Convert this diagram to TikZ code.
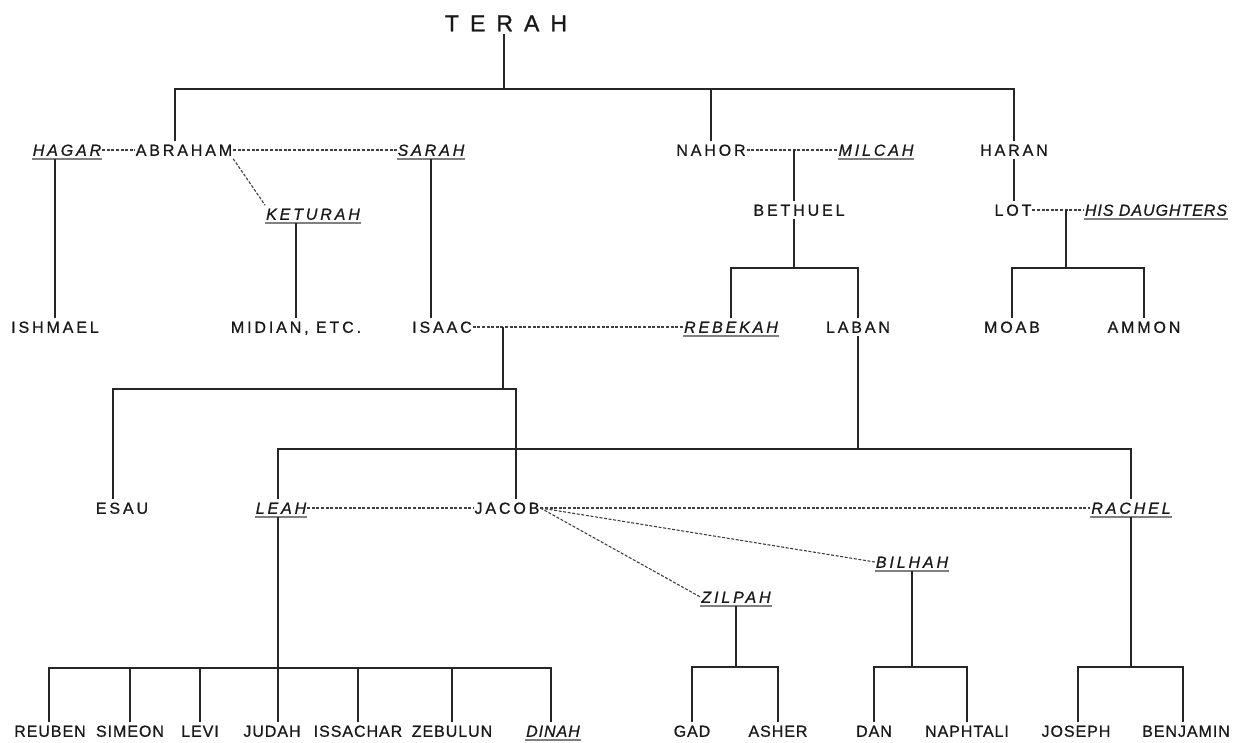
\documentclass[tikz,border=0pt]{standalone}
\usepackage{fontspec}
\newfontfamily\nmfont[LetterSpace=18,FakeBold=0.8]{Liberation Sans}
\newfontfamily\nmtight[LetterSpace=6,FakeBold=0.8]{Liberation Sans}
\newfontfamily\trfont[LetterSpace=48,FakeBold=1.2]{Liberation Sans}
\begin{document}
\begin{tikzpicture}[x=1pt,y=-1pt,
  uline/.style={draw=black!50, line width=1.5pt},
  kin/.style={draw=black!85, line width=1.3pt},
  wed/.style={draw=black!75, line width=1.1pt, dash pattern=on 3pt off 1.6pt},
  nm/.style={inner xsep=1pt, inner ysep=3pt, outer sep=0pt, text height=11.5pt, text depth=0pt,
             font=\nmfont\fontsize{16}{17}\selectfont, text=black!90},
  nmb/.style={nm, font=\nmtight\fontsize{16}{17}\selectfont},
  wife/.style={nm, font=\nmfont\itshape\fontsize{16}{17}\selectfont,
     append after command={(\tikzlastnode.south west) edge[uline] (\tikzlastnode.south east)}},
  wifeb/.style={nm, font=\nmtight\itshape\fontsize{16}{17}\selectfont,
     append after command={(\tikzlastnode.south west) edge[uline] (\tikzlastnode.south east)}},
]
\useasboundingbox (0,0) rectangle (1248,742);

% nodes
\node[nm, font=\trfont\fontsize{23}{24}\selectfont, text height=16.5pt] (terah) at (506,23) {TERAH};

\node[wife] (hagar) at (67,150) {HAGAR};
\node[nm] (abraham) at (184,150) {ABRAHAM};
\node[wife] (sarah) at (431,150) {SARAH};
\node[nm] (nahor) at (711,150) {NAHOR};
\node[wife] (milcah) at (876,150) {MILCAH};
\node[nm] (haran) at (1014,150) {HARAN};

\node[wife] (keturah) at (313,214) {KETURAH};
\node[nm] (bethuel) at (799,210) {BETHUEL};
\node[nm] (lot) at (1013,210) {LOT};
\node[wifeb] (hisd) at (1156,210) {HIS DAUGHTERS};

\node[nm] (ishmael) at (55,327) {ISHMAEL};
\node[nm] (midian) at (296,327) {MIDIAN, ETC.};
\node[nm] (isaac) at (442,327) {ISAAC};
\node[wife] (rebekah) at (731,327) {REBEKAH};
\node[nm] (laban) at (858,327) {LABAN};
\node[nm] (moab) at (1012,327) {MOAB};
\node[nm] (ammon) at (1144,327) {AMMON};

\node[nm] (esau) at (122,508) {ESAU};
\node[wife] (leah) at (281,508) {LEAH};
\node[nm] (jacob) at (507,508) {JACOB};
\node[wife] (rachel) at (1131,508) {RACHEL};
\node[wife] (bilhah) at (912,562) {BILHAH};
\node[wife] (zilpah) at (736,597) {ZILPAH};

\node[nmb] (reuben) at (50,731) {REUBEN};
\node[nmb] (simeon) at (130,731) {SIMEON};
\node[nmb] (levi) at (200,731) {LEVI};
\node[nmb] (judah) at (272,731) {JUDAH};
\node[nmb] (issachar) at (358,731) {ISSACHAR};
\node[nmb] (zebulun) at (452,731) {ZEBULUN};
\node[wifeb] (dinah) at (553,731) {DINAH};
\node[nmb] (gad) at (692,731) {GAD};
\node[nmb] (asher) at (778,731) {ASHER};
\node[nmb] (dan) at (874,731) {DAN};
\node[nmb] (naphtali) at (967,731) {NAPHTALI};
\node[nmb] (joseph) at (1076,731) {JOSEPH};
\node[nmb] (benjamin) at (1186,731) {BENJAMIN};

% Terah's sons
\coordinate (tb) at (504,89);
\coordinate (ta) at (175,89);
\coordinate (th) at (1014,89);
\draw[kin] (terah.south -| tb) -- (tb);
\draw[kin] (abraham.north -| ta) -- (ta) -- (th) -- (haran.north);
\draw[kin] (nahor.north) -- (nahor.north |- ta);

% Abraham
\draw[wed] (hagar.east) -- (abraham.west);
\draw[wed] (abraham.east) -- (sarah.west);
\draw[wed] (abraham.south east) -- (keturah.north west);
\draw[kin] (hagar.south -| ishmael.north) -- (ishmael.north);
\draw[kin] (keturah.south -| midian.north) -- (midian.north);
\draw[kin] (sarah.south) -- (sarah.south |- isaac.north);

% Nahor
\draw[wed] (nahor.east) -- (milcah.west);
\coordinate (nm) at (794,150);
\draw[kin] (nm) -- (nm |- bethuel.north);
\coordinate (bb) at (794,268);
\draw[kin] (bethuel.south -| bb) -- (bb);
\draw[kin] (rebekah.north) |- (bb) -| (laban.north);

% Haran
\draw[kin] (haran.south) -- (haran.south |- lot.north);
\draw[wed] (lot.east) -- (hisd.west);
\coordinate (ld) at (1066,210);
\coordinate (lb) at (1066,268);
\draw[kin] (ld) -- (lb);
\draw[kin] (moab.north) |- (lb) -| (ammon.north);

% Isaac
\draw[wed] (isaac.east) -- (rebekah.west);
\coordinate (ir) at (503,327);
\coordinate (ib) at (503,389);
\draw[kin] (ir) -- (ib);
\coordinate (eb) at (113,389);
\coordinate (jb) at (516,389);
\draw[kin] (eb |- esau.north) -- (eb) -- (jb) -- (jb |- jacob.north);

% Laban
\coordinate (lab) at (858,449);
\draw[kin] (laban.south) -- (lab);
\coordinate (lh) at (278,449);
\coordinate (rh) at (1131,449);
\draw[kin] (lh |- leah.north) -- (lh) -- (rh) -- (rh |- rachel.north);

% Jacob
\draw[wed] (leah.east) -- (jacob.west);
\draw[wed] (jacob.east) -- (rachel.west);
\draw[wed] (jacob.east) -- (bilhah.west);
\draw[wed] (jacob.east) -- (zilpah.west);

% Leah's children
\coordinate (cl) at (49,668);
\coordinate (cr) at (551,668);
\draw[kin] (lh |- leah.south) -- (lh |- judah.north);
\draw[kin] (reuben.north -| cl) -- (cl) -- (cr) -- (cr |- dinah.north);
\foreach \c in {simeon,levi,issachar,zebulun}
  \draw[kin] (\c.north) -- (\c.north |- cl);

% Zilpah's children
\coordinate (zb) at (736,667);
\draw[kin] (zilpah.south) -- (zb);
\draw[kin] (gad.north) |- (zb) -| (asher.north);

% Bilhah's children
\coordinate (bh) at (912,667);
\draw[kin] (bilhah.south) -- (bh);
\draw[kin] (dan.north) |- (bh) -| (naphtali.north);

% Rachel's children
\coordinate (rb) at (1131,667);
\draw[kin] (rachel.south) -- (rb);
\draw[kin] (joseph.north -| 1078,0) |- (rb) -| (benjamin.north -| 1183,0);
\end{tikzpicture}
\end{document}
